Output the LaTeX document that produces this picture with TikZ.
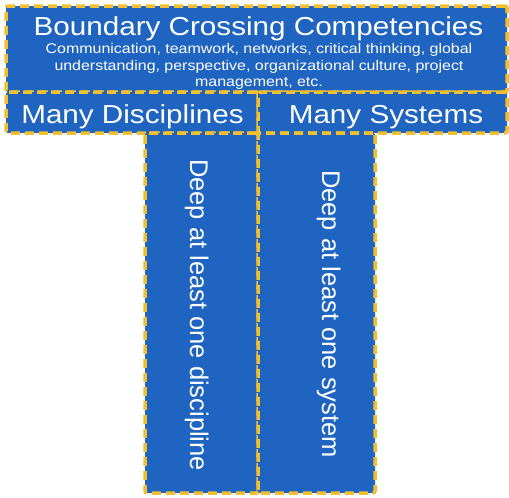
\documentclass[tikz,border=0pt]{standalone}
\usepackage{fontspec}
\setmainfont{Liberation Sans}
\newfontfamily\widefont[FakeStretch=1.14]{Liberation Sans}
\definecolor{tblue}{RGB}{31,100,192}
\definecolor{tyellow}{RGB}{240,192,48}
\tikzset{
  tbox/.style={draw=tyellow, fill=tblue, line width=3.5pt, dash pattern=on 9pt off 5pt,
    rounded corners=2pt, inner sep=0pt},
  bigtext/.style={text=white, inner sep=0pt, anchor=base, font=\widefont\fontsize{26}{30}\selectfont},
  smalltext/.style={text=white, inner sep=0pt, anchor=base, font=\widefont\fontsize{14}{16.6}\selectfont},
  stemtext/.style={text=white, inner sep=0pt, anchor=base, rotate=-90, font=\fontsize{25.5}{30}\selectfont},
}
\begin{document}
\begin{tikzpicture}[x=1pt,y=-1pt]
\useasboundingbox (0,0) rectangle (509,498);
%top row
\node[tbox, minimum width=501pt, minimum height=86pt] (top) at (256.5,49) {};
\node[bigtext] (toptitle) at (258.5,35) {Boundary Crossing Competencies};
\node[smalltext] (topsub) at (259,53.5)
  {\parbox[t]{440pt}{\centering Communication, teamwork, networks, critical thinking, global understanding, perspective, organizational culture, project management, etc.}};
%second row
\node[tbox, minimum width=252pt, minimum height=41pt] (disc) at (132,112.5) {};
\node[bigtext] (disctext) at (132.5,123) {Many Disciplines};
\node[tbox, minimum width=249pt, minimum height=41pt] (sys) at (382.5,112.5) {};
\node[bigtext] (systext) at (386,123) {Many Systems};
%the stems
\node[tbox, minimum width=113pt, minimum height=360pt] (deepdisc) at (201.5,313) {};
\node[stemtext] (deepdisctext) at (190,315) {Deep at least one discipline};
\node[tbox, minimum width=117pt, minimum height=360pt] (deepsys) at (316.5,313) {};
\node[stemtext] (deepsystext) at (322,314) {Deep at least one system};
\end{tikzpicture}
\end{document}
